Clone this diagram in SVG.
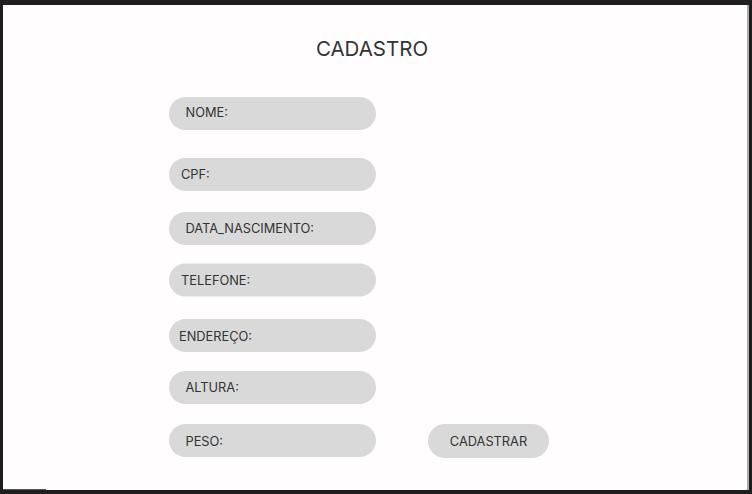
<svg xmlns="http://www.w3.org/2000/svg" width="752" height="494" viewBox="0 0 752 494">
<style>
.f{fill:#d9d9d9}
.t{font-family:Inter,"Liberation Sans",sans-serif;font-size:12.8px;fill:#333}
.h{font-family:Inter,"Liberation Sans",sans-serif;font-size:20.5px;fill:#333}
</style>
<rect x="0" y="0" width="752" height="494" fill="#1e1e1e"/>
<rect x="3" y="5" width="745" height="485" fill="#fffdfd"/>
<rect x="3" y="489" width="43" height="1" fill="#555"/>
<rect x="747" y="5" width="2" height="485" fill="#aaa"/>
<text class="h" x="372" y="55.5" text-anchor="middle">CADASTRO</text>
<g id="nome"><rect class="f" x="169" y="97" width="207" height="33" rx="16.5"/><text class="t" x="185.5" y="116.5">NOME:</text></g>
<g id="cpf"><rect class="f" x="169" y="158" width="207" height="33" rx="16.5"/><text class="t" x="181" y="179">CPF:</text></g>
<g id="data"><rect class="f" x="169" y="212" width="207" height="33" rx="16.5"/><text class="t" x="185.5" y="233">DATA_NASCIMENTO:</text></g>
<g id="telefone"><rect class="f" x="169" y="263.5" width="207" height="33" rx="16.5"/><text class="t" x="181" y="285">TELEFONE:</text></g>
<g id="endereco"><rect class="f" x="169" y="319" width="207" height="33" rx="16.5"/><text class="t" x="179" y="341">ENDEREÇO:</text></g>
<g id="altura"><rect class="f" x="169" y="371" width="207" height="33" rx="16.5"/><text class="t" x="185.5" y="392">ALTURA:</text></g>
<g id="peso"><rect class="f" x="169" y="424" width="207" height="33" rx="16.5"/><text class="t" x="185.5" y="446">PESO:</text></g>
<g id="cadastrar"><rect class="f" x="428" y="424" width="121" height="34" rx="17"/><text class="t" x="488.5" y="446" text-anchor="middle">CADASTRAR</text></g>
<g id="connectors"/>
</svg>
